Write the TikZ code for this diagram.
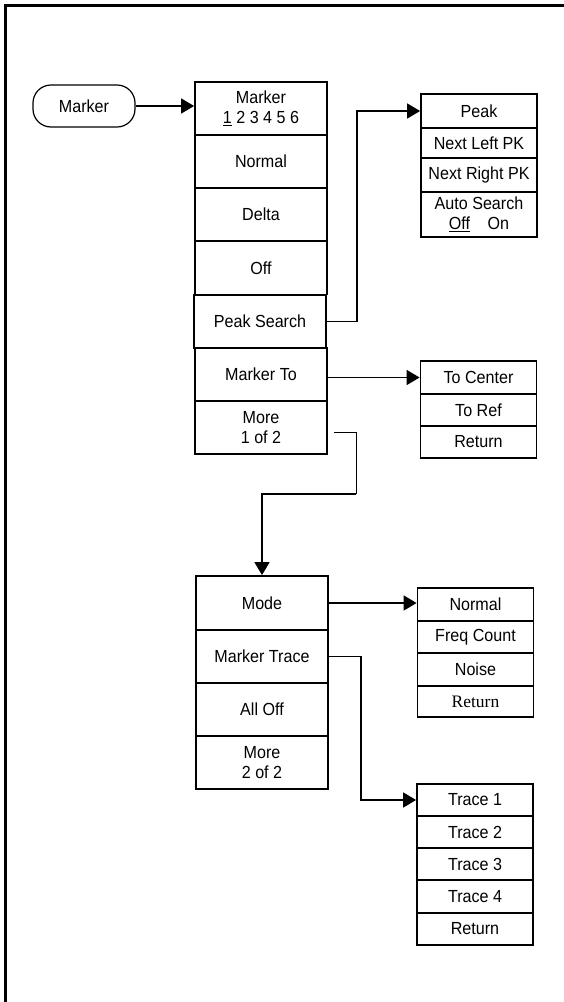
\documentclass[tikz,border=0pt]{standalone}
\usepackage{fontspec}
\setmainfont{Liberation Sans}[FakeStretch=0.92]
\newfontfamily\retfont{Liberation Serif}
\usetikzlibrary{arrows.meta}

\begin{document}
\begin{tikzpicture}[x=1pt,y=-1pt,
  key/.style={draw,line width=1.8pt,inner sep=0pt,align=center,font=\fontsize{17.5}{20}\selectfont},
  mainkey/.style={key,minimum width=132pt,minimum height=53pt},
  subkey/.style={key,minimum width=116pt},
  link/.style={line width=1.6pt,-{Triangle[length=13pt,width=15pt]}}]

\useasboundingbox (0,0) rectangle (564,1002);
\draw[line width=3pt] (5.5,1002) -- (5.5,5) -- (564,5);

\node[draw,line width=1.2pt,rounded corners=18pt,minimum width=102pt,minimum height=42pt,font=\fontsize{17.5}{20}\selectfont] (mk) at (84,106) {Marker};

\node[mainkey] (m1) at (261,108.5) {Marker\\\underline{1} 2 3 4 5 6};
\node[mainkey] (m2) at (261,161.5) {Normal};
\node[mainkey] (m3) at (261,214.5) {Delta};
\node[mainkey] (m4) at (261,268) {Off};
\node[mainkey] (m5) at (260,321.5) {Peak Search};
\node[mainkey] (m6) at (261,374.5) {Marker To};
\node[mainkey] (m7) at (261,427.5) {More\\1 of 2};
\draw[link] (mk.east) -- (mk.east -| m1.west);

\node[subkey,minimum height=34pt] (p1) at (479,111) {Peak};
\node[subkey,minimum height=30pt] (p2) at (479,143) {Next Left PK};
\node[subkey,minimum height=34pt] (p3) at (479,175) {Next Right PK};
\node[subkey,minimum height=45pt] (p4) at (479,214.5) {Auto Search\\\underline{Off}\quad On};
\draw[link] (m5.east) -- ++(30,0) |- (p1.west);

\node[subkey,minimum height=33pt] (t1) at (478.5,377.5) {To Center};
\node[subkey,minimum height=32pt] (t2) at (478.5,410) {To Ref};
\node[subkey,minimum height=32pt] (t3) at (478.5,442) {Return};
\draw[link] (m6.east |- t1.west) -- (t1.west);

\node[mainkey,minimum height=54pt] (n1) at (262,603) {Mode};
\node[mainkey] (n2) at (262,656.5) {Marker Trace};
\node[mainkey] (n3) at (262,709.5) {All Off};
\node[mainkey] (n4) at (262,762.5) {More\\2 of 2};
\coordinate (c1) at (356,494);
\draw[line width=1pt] ([shift={(6,4.5)}]m7.east) -| (c1);
\draw[link] (c1) -| (n1.north);

\node[subkey,minimum height=33pt] (s1) at (475.5,604.5) {Normal};
\node[subkey,minimum height=32pt] (s2) at (475.5,637) {Freq Count};
\node[subkey,minimum height=33pt] (s3) at (475.5,669.5) {Noise};
\node[subkey,minimum height=31pt] (s4) at (475.5,701.5) {\retfont Return};
\draw[link] (n1.east) -- (n1.east -| s1.west);

\node[subkey,minimum height=32pt] (r1) at (475,800) {Trace 1};
\node[subkey,minimum height=32pt] (r2) at (475,832) {Trace 2};
\node[subkey,minimum height=32pt] (r3) at (475,864) {Trace 3};
\node[subkey,minimum height=33pt] (r4) at (475,896.5) {Trace 4};
\node[subkey,minimum height=32pt] (r5) at (475,929) {Return};
\draw[link] (n2.east) -- ++(32,0) |- (r1.west);
\end{tikzpicture}
\end{document}
